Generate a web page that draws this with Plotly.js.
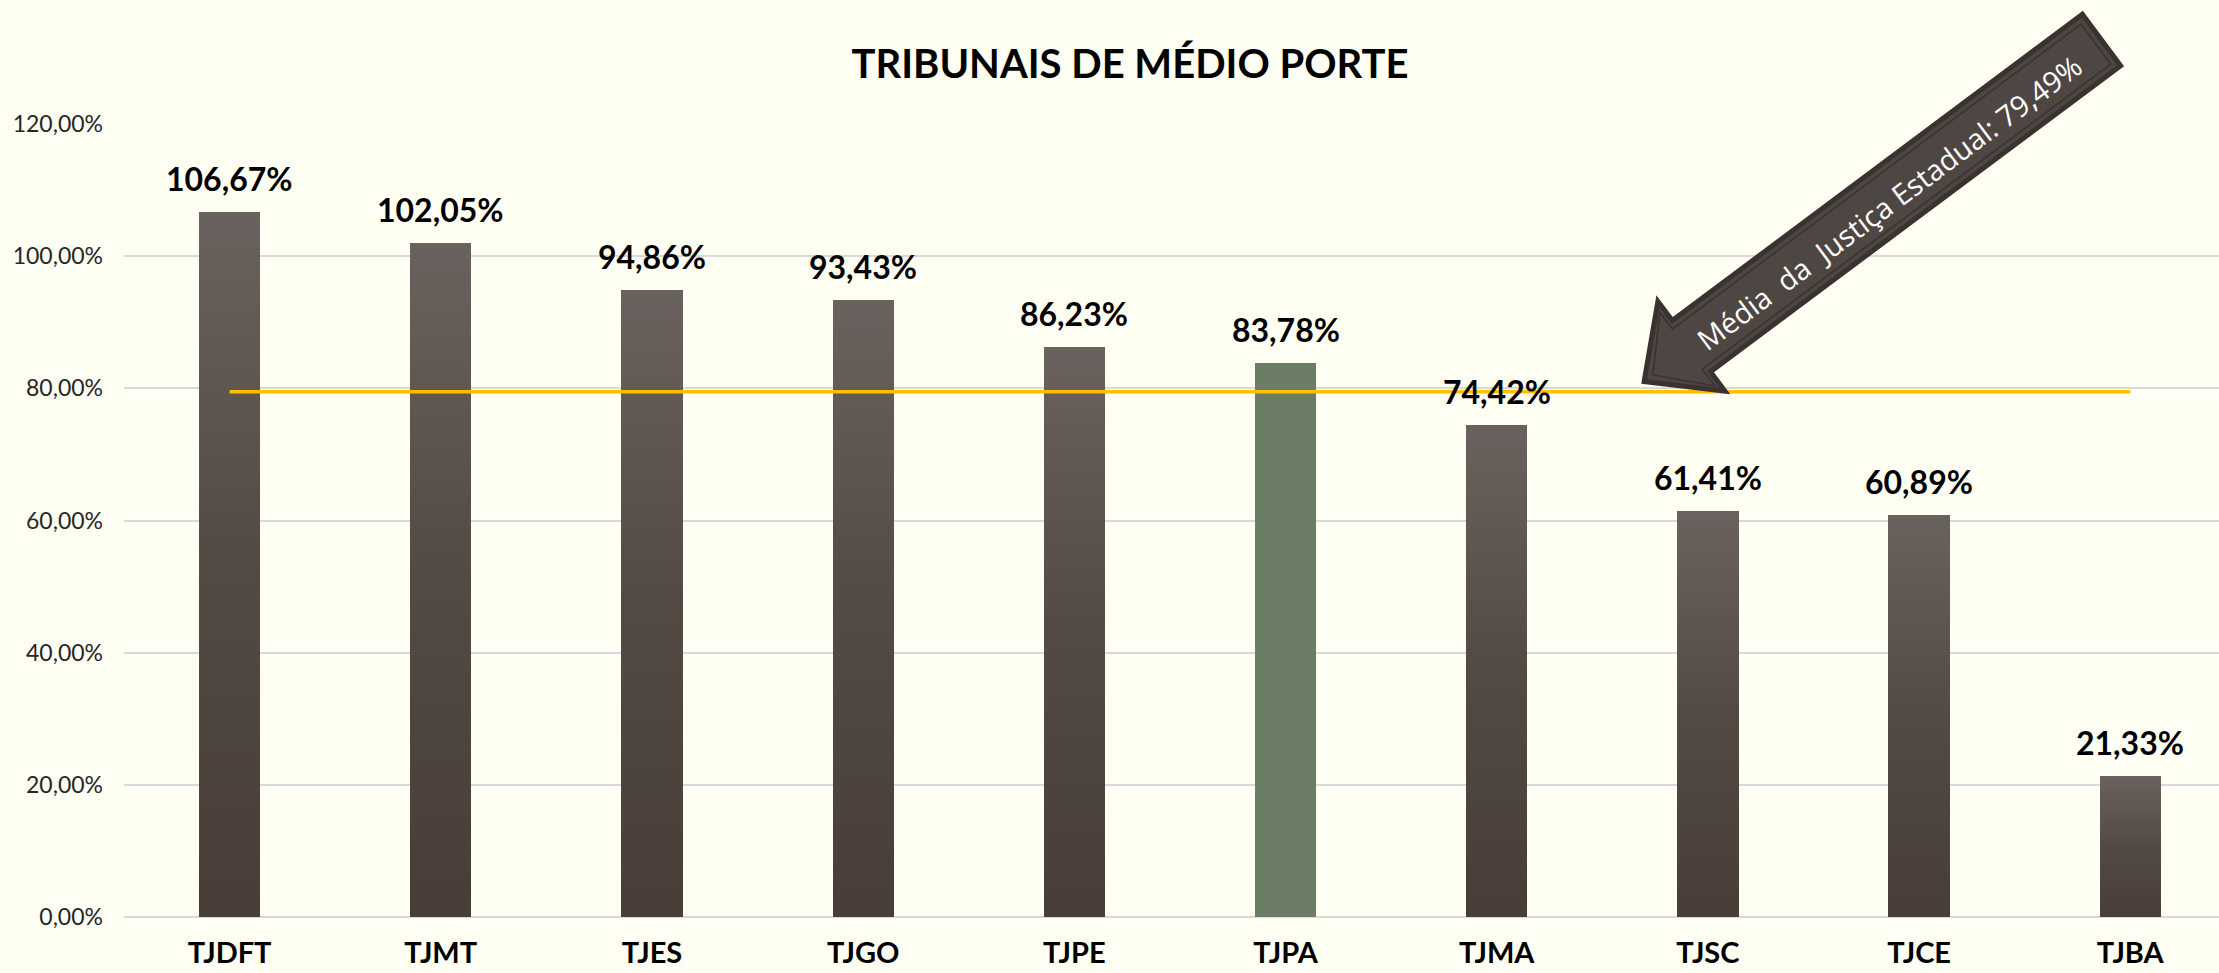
<!DOCTYPE html>
<html>
<head>
<meta charset="utf-8">
<script src="https://cdn.plot.ly/plotly-3.0.1.min.js"></script>
<style>
  html, body { margin: 0; padding: 0; background: #FEFEF2; }
  #chart { width: 2219px; height: 973px; }
</style>
</head>
<body>
<div id="chart"></div>
<script>
// ---- data ----
const categories = ["TJDFT", "TJMT", "TJES", "TJGO", "TJPE", "TJPA", "TJMA", "TJSC", "TJCE", "TJBA"];
const values = [106.67, 102.05, 94.86, 93.43, 86.23, 83.78, 74.42, 61.41, 60.89, 21.33];
const valueLabels = ["106,67%", "102,05%", "94,86%", "93,43%", "86,23%", "83,78%", "74,42%", "61,41%", "60,89%", "21,33%"];
const averageValue = 79.49;
const highlighted = "TJPA";
const chartTitle = "TRIBUNAIS DE MÉDIO PORTE";
const averageLabel = "Média\u00a0 da\u00a0 Justiça Estadual: 79,49%";

// ---- style ----
const W = 2219, H = 973;
const M = { l: 124, r: 0, t: 124, b: 56 };
const brown = "#574d47";
const green = "#6c7d65";
const fontMain = "Lato, 'Open Sans', sans-serif";

const barTrace = {
  type: "bar",
  x: categories,
  y: values,
  width: 0.29,
  marker: { color: categories.map(c => c === highlighted ? green : brown), line: { width: 0 } },
  hoverinfo: "skip"
};

const avgTrace = {
  type: "scatter",
  mode: "lines",
  x: categories,
  y: categories.map(() => averageValue),
  line: { color: "#FFC000", width: 3.5 },
  hoverinfo: "skip"
};

// arrow geometry (pixel, local coords: s along axis toward tip, p across)
const E = [2101.5, 40];
const u = [-0.801, 0.598];
const n = [0.598, 0.801];
function px(s, p) { return [E[0] + s * u[0] + p * n[0], E[1] + s * u[1] + p * n[1]]; }
function toPaper(pt) {
  const pw = W - M.l - M.r, ph = H - M.t - M.b;
  return [(pt[0] - M.l) / pw, (H - M.b - pt[1]) / ph];
}
function arrowPath(tail, base, shaftW, headW, tip) {
  const pts = [[tail, -shaftW], [base, -shaftW], [base, -headW], [tip, 0], [base, headW], [base, shaftW], [tail, shaftW]];
  return pts.map((q, i) => { const pp = toPaper(px(q[0], q[1])); return (i === 0 ? "M" : "L") + pp[0].toFixed(5) + "," + pp[1].toFixed(5); }).join(" ") + " Z";
}
const textCenter = toPaper(px(268, 3));

const valueAnnotations = categories.map((c, i) => ({
  xref: "x", yref: "y", x: c, y: values[i],
  xanchor: "center", yanchor: "bottom", yshift: 12,
  showarrow: false,
  text: "<b>" + valueLabels[i] + "</b>",
  font: { family: fontMain, size: 32, color: "#000000" }
}));

const layout = {
  width: W, height: H,
  margin: M,
  paper_bgcolor: "#FEFEF2",
  plot_bgcolor: "#FEFEF2",
  separators: ",.",
  showlegend: false,
  bargap: 0,
  title: {
    text: "<b>" + chartTitle + "</b>",
    font: { family: fontMain, size: 40, color: "#000000" },
    x: 1130 / W, xref: "container", xanchor: "center",
    y: 1 - 64 / H, yref: "container", yanchor: "middle"
  },
  xaxis: {
    type: "category",
    range: [-0.5, 9.42],
    showgrid: false,
    zeroline: false,
    showline: false,
    ticks: "",
    tickfont: { family: fontMain, size: 29, color: "#000000" },
    ticklabelstandoff: 16,
    tickprefix: "<b>", ticksuffix: "</b>"
  },
  yaxis: {
    range: [0, 120],
    dtick: 20,
    tickformat: ".2f",
    ticksuffix: "%",
    showgrid: true,
    gridcolor: "#d9d9d9",
    gridwidth: 2,
    zeroline: true,
    zerolinecolor: "#d9d9d9",
    zerolinewidth: 2,
    showline: false,
    ticks: "",
    ticklabelstandoff: 20,
    tickfont: { family: fontMain, size: 23, color: "#262626" }
  },
  shapes: [
    { type: "path", xref: "paper", yref: "paper", path: arrowPath(0, 512, 32, 56, 571),
      fillcolor: "#4e4642", line: { color: "#3a3230", width: 5 }, layer: "above" },
    { type: "path", xref: "paper", yref: "paper", path: arrowPath(7, 517, 25, 46, 560),
      fillcolor: "rgba(0,0,0,0)", line: { color: "#3a3230", width: 1.5 }, layer: "above" }
  ],
  annotations: valueAnnotations.concat([
    { xref: "paper", yref: "paper", x: textCenter[0], y: textCenter[1],
      xanchor: "center", yanchor: "middle", showarrow: false,
      text: averageLabel, textangle: -36.7,
      font: { family: "'Open Sans', 'Noto Sans', sans-serif", size: 29, color: "#ffffff" } }
  ])
};

Plotly.newPlot("chart", [barTrace, avgTrace], layout, { staticPlot: true, displayModeBar: false }).then(gd => {
  const svg = gd.querySelector("svg.main-svg");
  let defs = svg.querySelector("defs");
  const NS = "http://www.w3.org/2000/svg";
  const grad = document.createElementNS(NS, "linearGradient");
  grad.setAttribute("id", "barGrad");
  grad.setAttribute("x1", "0"); grad.setAttribute("y1", "0");
  grad.setAttribute("x2", "0"); grad.setAttribute("y2", "1");
  [["0", "#6a625e"], ["0.5", "#544a44"], ["1", "#483e37"]].forEach(s => {
    const st = document.createElementNS(NS, "stop");
    st.setAttribute("offset", s[0]); st.setAttribute("stop-color", s[1]);
    grad.appendChild(st);
  });
  defs.appendChild(grad);
  const paths = gd.querySelectorAll(".barlayer .point path");
  paths.forEach((p, i) => {
    if (categories[i] !== highlighted) p.style.fill = "url(#barGrad)";
  });
});
</script>
</body>
</html>
